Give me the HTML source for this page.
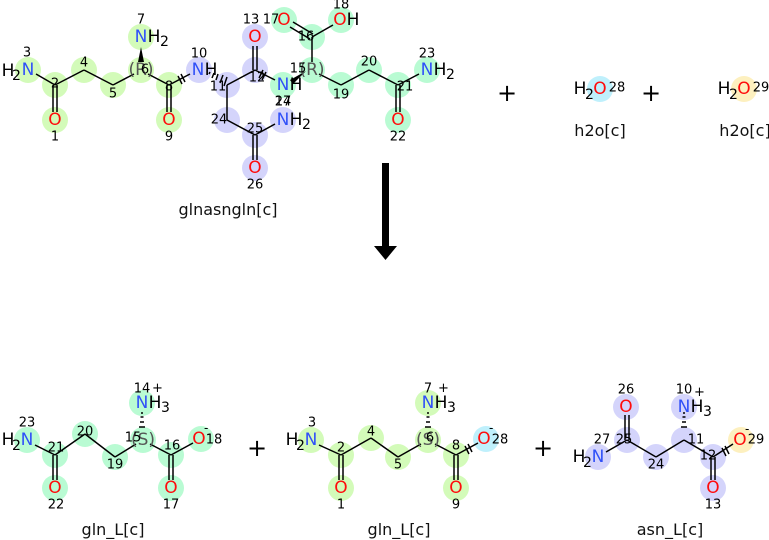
<!DOCTYPE html>
<html><head><meta charset="utf-8"><style>
body{margin:0;background:#fff}
svg{display:block}
text{font-family:"DejaVu Sans","Liberation Sans",sans-serif;}
.a{font-size:17px;text-anchor:middle;dominant-baseline:central}
.l{font-size:13px;text-anchor:middle;dominant-baseline:central;fill:#000}
.s{font-size:14px}
.N{fill:#3050f8}.O{fill:#ff0d0d}
.b line{stroke:#000;stroke-width:1.5}
.big{font-size:16px;text-anchor:middle;fill:#111}
</style></head><body>
<svg width="769" height="540" viewBox="0 0 769 540">
<g fill="#d3fbb9">
<circle cx="28" cy="70" r="13"/><circle cx="55" cy="85" r="13"/><circle cx="55" cy="120" r="13"/>
<circle cx="84" cy="70" r="13"/><circle cx="113" cy="85" r="13"/><circle cx="141" cy="70" r="13"/>
<circle cx="141" cy="37" r="13"/><circle cx="169" cy="85" r="13"/><circle cx="169" cy="120" r="13"/>
</g>
<g fill="#d4d4fb">
<circle cx="199" cy="70" r="13"/><circle cx="227" cy="85" r="13"/><circle cx="255" cy="70" r="13"/>
<circle cx="255" cy="37" r="13"/><circle cx="227" cy="120" r="13"/><circle cx="255" cy="135" r="13"/>
<circle cx="255" cy="168" r="13"/><circle cx="283" cy="120" r="13"/>
</g>
<g fill="#b9fbd3">
<circle cx="283" cy="85" r="13"/><circle cx="312" cy="70" r="13"/><circle cx="312" cy="37" r="13"/>
<circle cx="284" cy="20" r="13"/><circle cx="341" cy="20" r="13"/><circle cx="341" cy="85" r="13"/>
<circle cx="369" cy="70" r="13"/><circle cx="398" cy="85" r="13"/><circle cx="398" cy="120" r="13"/>
<circle cx="427" cy="70" r="13"/>
</g>
<circle cx="600" cy="89" r="13" fill="#bff0fc"/>
<circle cx="744" cy="89" r="13" fill="#fdf0bf"/>
<g fill="#b9fbd3">
<circle cx="27" cy="440" r="13"/><circle cx="55" cy="455" r="13"/><circle cx="55" cy="488" r="13"/>
<circle cx="85" cy="434" r="13"/><circle cx="115" cy="457" r="13"/><circle cx="143" cy="440" r="13"/>
<circle cx="142" cy="403" r="13"/><circle cx="171" cy="455" r="13"/><circle cx="171" cy="488" r="13"/>
<circle cx="201" cy="439" r="13"/>
</g>
<g fill="#d3fbb9">
<circle cx="311" cy="440" r="13"/><circle cx="341" cy="455" r="13"/><circle cx="341" cy="488" r="13"/>
<circle cx="371" cy="438" r="13"/><circle cx="398" cy="457" r="13"/><circle cx="428" cy="440" r="13"/>
<circle cx="428" cy="403" r="13"/><circle cx="456" cy="455" r="13"/><circle cx="456" cy="488" r="13"/>
</g>
<circle cx="486" cy="439" r="13" fill="#bff0fc"/>
<g fill="#d4d4fb">
<circle cx="626" cy="407" r="13"/><circle cx="627" cy="440" r="13"/><circle cx="598" cy="457" r="13"/>
<circle cx="656" cy="457" r="13"/><circle cx="684" cy="440" r="13"/><circle cx="684" cy="407" r="13"/>
<circle cx="713" cy="457" r="13"/><circle cx="713" cy="488" r="13"/>
</g>
<circle cx="741" cy="440" r="13" fill="#fdf0bf"/>

<g class="b">
<line x1="36" y1="74" x2="55" y2="85"/>
<line x1="53" y1="85" x2="53" y2="112"/><line x1="57" y1="85" x2="57" y2="112"/>
<line x1="55" y1="85" x2="84" y2="70"/><line x1="84" y1="70" x2="113" y2="85"/><line x1="113" y1="85" x2="134" y2="74"/>
<line x1="148" y1="74" x2="169" y2="85"/>
<line x1="167" y1="85" x2="167" y2="112"/><line x1="171" y1="85" x2="171" y2="112"/>
<line x1="169" y1="85" x2="190" y2="74"/>
<line x1="178" y1="76" x2="182" y2="84"/><line x1="181" y1="74" x2="185" y2="82"/>
<line x1="227" y1="85" x2="255" y2="70"/>
<line x1="253" y1="70" x2="253" y2="46"/><line x1="257" y1="70" x2="257" y2="46"/>
<line x1="255" y1="70" x2="275" y2="80"/>
<line x1="263" y1="70" x2="259" y2="78"/><line x1="266" y1="72" x2="262" y2="80"/>
<line x1="227" y1="85" x2="227" y2="120"/><line x1="227" y1="120" x2="255" y2="135"/>
<line x1="253" y1="135" x2="253" y2="160"/><line x1="257" y1="135" x2="257" y2="160"/>
<line x1="255" y1="135" x2="275" y2="124"/>
<line x1="312" y1="62" x2="312" y2="37"/>
<line x1="310" y1="39" x2="290" y2="27"/><line x1="313" y1="34" x2="293" y2="22"/>
<line x1="312" y1="37" x2="333" y2="25"/>
<line x1="319" y1="74" x2="341" y2="85"/><line x1="341" y1="85" x2="369" y2="70"/><line x1="369" y1="70" x2="398" y2="85"/>
<line x1="396" y1="85" x2="396" y2="112"/><line x1="400" y1="85" x2="400" y2="112"/>
<line x1="398" y1="85" x2="419" y2="74"/>
<line x1="209" y1="74" x2="210" y2="72"/><line x1="212" y1="78" x2="214" y2="73"/><line x1="216" y1="80" x2="218" y2="74"/><line x1="220" y1="83" x2="223" y2="75"/><line x1="224" y1="86" x2="227" y2="77"/>
</g>
<polygon points="141,47 138,62 144,62" fill="#000"/>
<polygon points="290,80 293,84 306,71" fill="#000"/>

<text class="a" x="8" y="71">H</text><text class="s" x="12" y="80">2</text><text class="a N" x="28" y="70">N</text>
<text class="l" x="55" y="84">2</text>
<text class="a O" x="55" y="120">O</text>
<text class="a" x="141" y="70" style="fill:#555">(R)</text>
<text class="a N" x="141" y="37">N</text><text class="a" x="154" y="37">H</text><text class="s" x="160" y="46">2</text>
<text class="a O" x="169" y="120">O</text>
<text class="a N" x="198" y="70">N</text><text class="a" x="211" y="70">H</text>
<text class="a O" x="255" y="37">O</text>
<text class="a N" x="283" y="85">N</text><text class="a" x="296" y="85">H</text>
<text class="a N" x="283" y="120">N</text><text class="a" x="296" y="120">H</text><text class="s" x="302" y="129">2</text>
<text class="a O" x="255" y="168">O</text>
<text class="a" x="312" y="70" style="fill:#555">(R)</text>
<text class="a O" x="284" y="20">O</text>
<text class="a O" x="340" y="20">O</text><text class="a" x="353" y="20">H</text>
<text class="a O" x="398" y="120">O</text>
<text class="a N" x="427" y="70">N</text><text class="a" x="440" y="70">H</text><text class="s" x="446" y="79">2</text>
<text class="l" x="27" y="53">3</text><text class="l" x="55" y="137">1</text>
<text class="l" x="84" y="63">4</text><text class="l" x="113" y="94">5</text>
<text class="l" x="145" y="70">6</text><text class="l" x="141" y="20">7</text>
<text class="l" x="169" y="87">8</text><text class="l" x="169" y="137">9</text>
<text class="l" x="199" y="54">10</text><text class="l" x="218" y="87">11</text>
<text class="l" x="257" y="78">12</text><text class="l" x="251" y="20">13</text>
<text class="l" x="283" y="102">14</text><text class="l" x="283" y="102">27</text>
<text class="l" x="298" y="69">15</text><text class="l" x="306" y="37">16</text>
<text class="l" x="271" y="20">17</text><text class="l" x="341" y="5">18</text>
<text class="l" x="341" y="95">19</text><text class="l" x="369" y="62">20</text>
<text class="l" x="405" y="87">21</text><text class="l" x="398" y="137">22</text>
<text class="l" x="427" y="54">23</text><text class="l" x="219" y="120">24</text>
<text class="l" x="255" y="129">25</text><text class="l" x="255" y="185">26</text>
<text class="big" x="228" y="215">glnasngln[c]</text>

<text x="507" y="101" style="font-size:24px;text-anchor:middle">+</text>
<text x="651" y="101" style="font-size:24px;text-anchor:middle">+</text>
<text class="a" x="580" y="89">H</text><text class="s" x="585" y="99">2</text>
<text class="a O" x="600" y="89">O</text><text class="l" x="617" y="88">28</text>
<text class="big" x="600" y="136">h2o[c]</text>
<text class="a" x="724" y="89">H</text><text class="s" x="729" y="99">2</text>
<text class="a O" x="744" y="89">O</text><text class="l" x="761" y="88">29</text>
<text class="big" x="745" y="136">h2o[c]</text>

<rect x="382" y="163" width="7" height="84" fill="#000"/>
<polygon points="374,246 397,246 385.5,260" fill="#000"/>

<g class="b">
<line x1="35" y1="445" x2="55" y2="455"/>
<line x1="53" y1="455" x2="53" y2="480"/><line x1="57" y1="455" x2="57" y2="480"/>
<line x1="55" y1="455" x2="85" y2="434"/><line x1="85" y1="434" x2="115" y2="457"/><line x1="115" y1="457" x2="136" y2="444"/>
<line x1="150" y1="444" x2="171" y2="455"/>
<line x1="169" y1="455" x2="169" y2="480"/><line x1="173" y1="455" x2="173" y2="480"/>
<line x1="171" y1="455" x2="193" y2="443"/>
<line x1="319" y1="445" x2="341" y2="455"/>
<line x1="339" y1="455" x2="339" y2="480"/><line x1="343" y1="455" x2="343" y2="480"/>
<line x1="341" y1="455" x2="371" y2="438"/><line x1="371" y1="438" x2="398" y2="457"/><line x1="398" y1="457" x2="421" y2="444"/>
<line x1="435" y1="444" x2="456" y2="455"/>
<line x1="454" y1="455" x2="454" y2="480"/><line x1="458" y1="455" x2="458" y2="480"/>
<line x1="456" y1="455" x2="478" y2="443"/>
<line x1="465" y1="446" x2="469" y2="454"/><line x1="468" y1="444" x2="472" y2="452"/>
<line x1="625" y1="440" x2="625" y2="415"/><line x1="629" y1="440" x2="629" y2="415"/>
<line x1="627" y1="440" x2="606" y2="452"/>
<line x1="627" y1="440" x2="656" y2="457"/><line x1="656" y1="457" x2="684" y2="440"/><line x1="684" y1="440" x2="713" y2="457"/>
<line x1="711" y1="457" x2="711" y2="480"/><line x1="715" y1="457" x2="715" y2="480"/>
<line x1="713" y1="457" x2="733" y2="444"/>
<line x1="722" y1="448" x2="726" y2="456"/><line x1="725" y1="446" x2="729" y2="454"/>
<line x1="139" y1="427" x2="145" y2="427"/><line x1="140" y1="422" x2="144" y2="422"/><line x1="140.5" y1="417" x2="143.5" y2="417"/><line x1="141" y1="413" x2="143" y2="413"/>
<line x1="425" y1="427" x2="431" y2="427"/><line x1="426" y1="422" x2="430" y2="422"/><line x1="426.5" y1="417" x2="429.5" y2="417"/><line x1="427" y1="413" x2="429" y2="413"/>
<line x1="681" y1="427" x2="687" y2="427"/><line x1="682" y1="422" x2="686" y2="422"/><line x1="682.5" y1="417" x2="685.5" y2="417"/><line x1="683" y1="413" x2="685" y2="413"/>
</g>
<text class="a" x="8" y="440">H</text><text class="s" x="12" y="450">2</text><text class="a N" x="27" y="440">N</text>
<text class="a O" x="55" y="488">O</text>
<text class="a" x="143" y="440" style="fill:#555">(S)</text>
<text class="a N" x="142" y="403">N</text><text class="a" x="155" y="403">H</text><text class="s" x="161" y="412">3</text><text x="152" y="392" style="font-size:13px">+</text>
<text class="a O" x="171" y="488">O</text>
<text class="a O" x="199" y="439">O</text><text x="204" y="432" style="font-size:12px">-</text>
<text class="l" x="27" y="423">23</text><text class="l" x="56" y="448">21</text><text class="l" x="56" y="505">22</text>
<text class="l" x="85" y="432">20</text><text class="l" x="115" y="465">19</text><text class="l" x="133" y="438">15</text>
<text class="l" x="142" y="389">14</text><text class="l" x="172" y="446">16</text><text class="l" x="171" y="505">17</text>
<text class="l" x="214" y="440">18</text>
<text class="big" x="113" y="535">gln_L[c]</text>
<text x="257" y="456" style="font-size:24px;text-anchor:middle">+</text>
<text class="a" x="292" y="440">H</text><text class="s" x="296" y="450">2</text><text class="a N" x="311" y="440">N</text>
<text class="a O" x="341" y="488">O</text>
<text class="a" x="428" y="440" style="fill:#555">(S)</text>
<text class="a N" x="428" y="403">N</text><text class="a" x="441" y="403">H</text><text class="s" x="447" y="412">3</text><text x="438" y="392" style="font-size:13px">+</text>
<text class="a O" x="456" y="488">O</text>
<text class="a O" x="484" y="439">O</text><text x="489" y="432" style="font-size:12px">-</text>
<text class="l" x="312" y="423">3</text><text class="l" x="341" y="448">2</text><text class="l" x="341" y="505">1</text>
<text class="l" x="371" y="432">4</text><text class="l" x="398" y="465">5</text><text class="l" x="430" y="438">6</text>
<text class="l" x="428" y="389">7</text><text class="l" x="456" y="446">8</text><text class="l" x="456" y="505">9</text>
<text class="l" x="500" y="440">28</text>
<text class="big" x="399" y="535">gln_L[c]</text>
<text x="543" y="456" style="font-size:24px;text-anchor:middle">+</text>
<text class="a O" x="626" y="407">O</text>
<text class="a" x="579" y="457">H</text><text class="s" x="583" y="467">2</text><text class="a N" x="598" y="457">N</text>
<text class="a N" x="684" y="407">N</text><text class="a" x="697" y="407">H</text><text class="s" x="703" y="416">3</text><text x="694" y="396" style="font-size:13px">+</text>
<text class="a O" x="713" y="488">O</text>
<text class="a O" x="740" y="440">O</text><text x="745" y="433" style="font-size:12px">-</text>
<text class="l" x="626" y="390">26</text><text class="l" x="602" y="440">27</text><text class="l" x="624" y="440">25</text>
<text class="l" x="656" y="465">24</text><text class="l" x="696" y="440">11</text><text class="l" x="684" y="390">10</text>
<text class="l" x="708" y="456">12</text><text class="l" x="713" y="505">13</text><text class="l" x="756" y="440">29</text>
<text class="big" x="670" y="535">asn_L[c]</text>
</svg>
</body></html>
